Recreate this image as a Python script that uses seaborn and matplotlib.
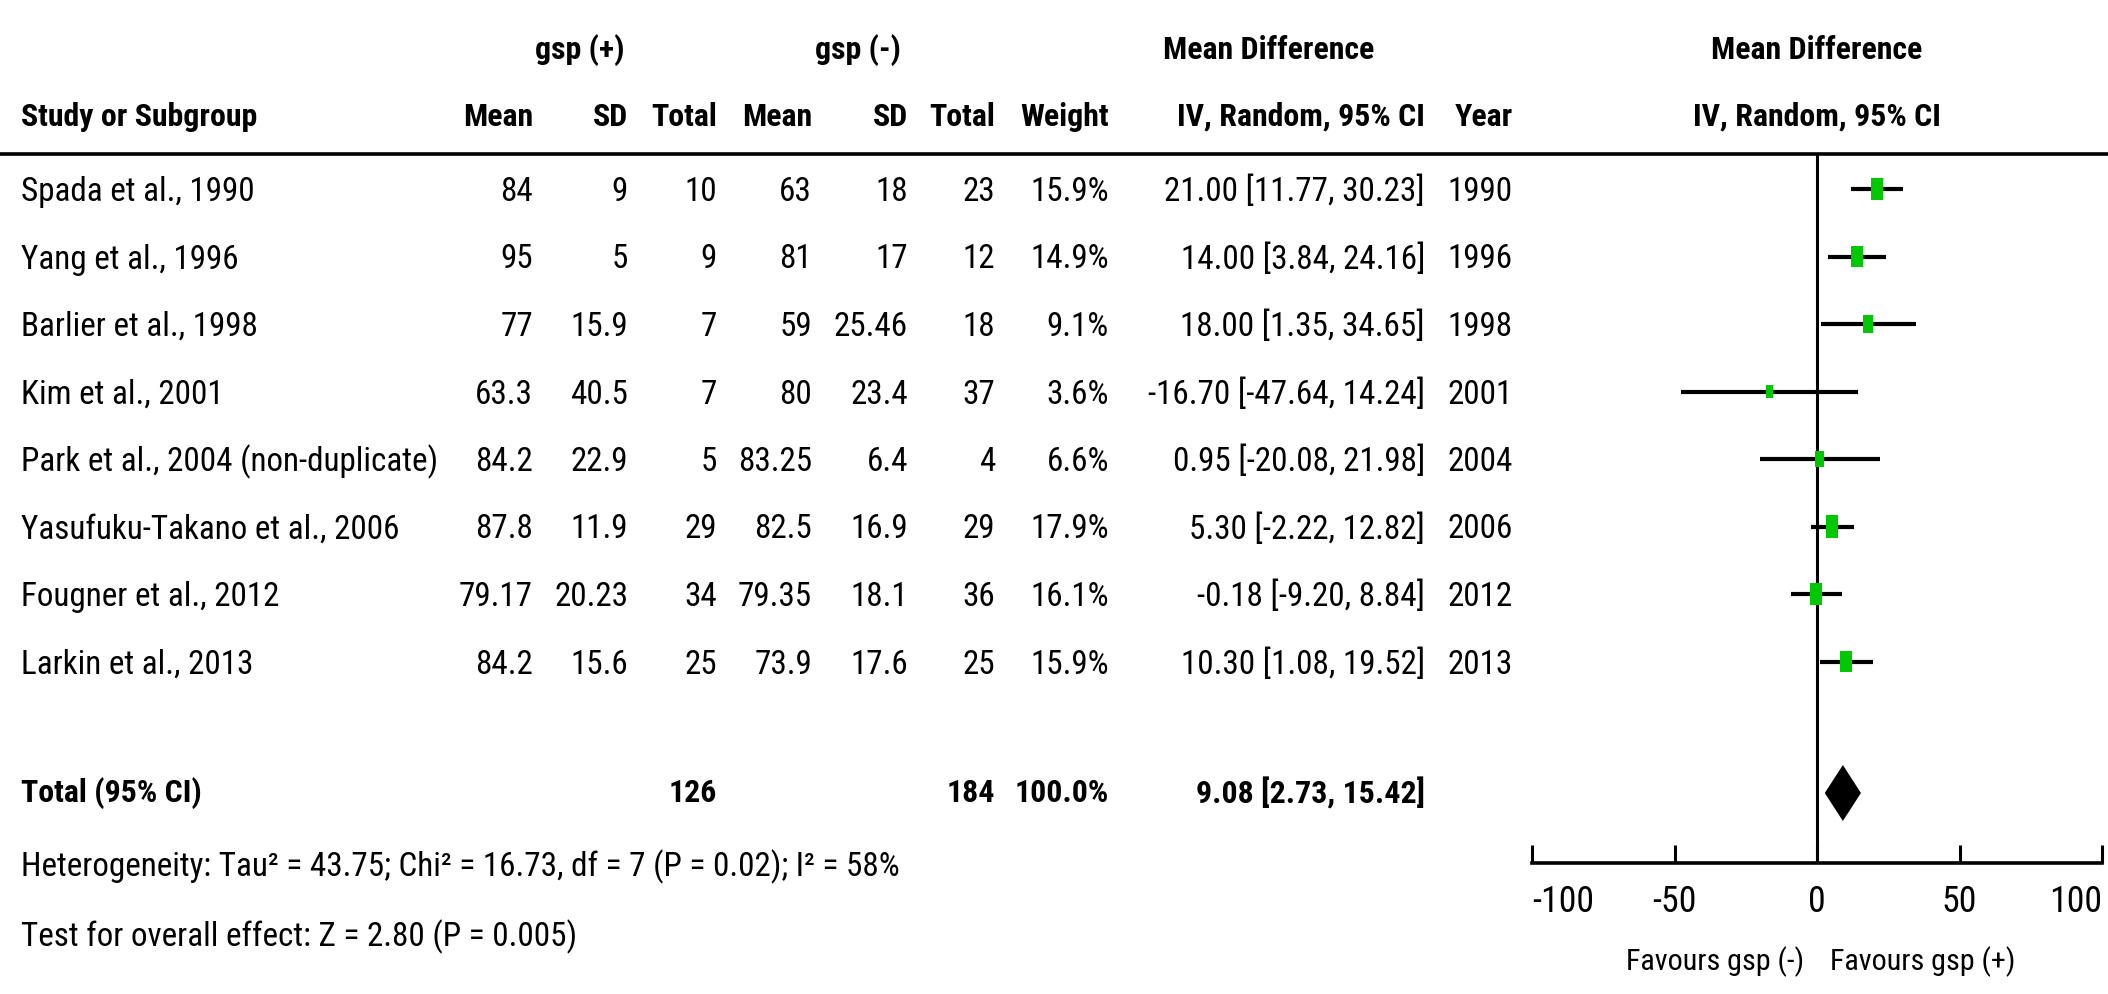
import matplotlib
matplotlib.use('Agg')
import matplotlib.pyplot as plt
from matplotlib import font_manager
import seaborn as sns
import pandas as pd

# values
studies = ['Spada et al., 1990', 'Yang et al., 1996', 'Barlier et al., 1998', 'Kim et al., 2001',
           'Park et al., 2004 (non-duplicate)', 'Yasufuku-Takano et al., 2006',
           'Fougner et al., 2012', 'Larkin et al., 2013']
pos_mean = [84, 95, 77, 63.3, 84.2, 87.8, 79.17, 84.2]
pos_sd = [9, 5, 15.9, 40.5, 22.9, 11.9, 20.23, 15.6]
pos_n = [10, 9, 7, 7, 5, 29, 34, 25]
neg_mean = [63, 81, 59, 80, 83.25, 82.5, 79.35, 73.9]
neg_sd = [18, 17, 25.46, 23.4, 6.4, 16.9, 18.1, 17.6]
neg_n = [23, 12, 18, 37, 4, 29, 36, 25]
weights = [15.9, 14.9, 9.1, 3.6, 6.6, 17.9, 16.1, 15.9]
md = [21.00, 14.00, 18.00, -16.70, 0.95, 5.30, -0.18, 10.30]
ci_lo = [11.77, 3.84, 1.35, -47.64, -20.08, -2.22, -9.20, 1.08]
ci_hi = [30.23, 24.16, 34.65, 14.24, 21.98, 12.82, 8.84, 19.52]
years = [1990, 1996, 1998, 2001, 2004, 2006, 2012, 2013]

total_pos, total_neg, total_weight = 126, 184, 100.0
pooled_md, pooled_lo, pooled_hi = 9.08, 2.73, 15.42
heterogeneity = 'Heterogeneity: Tau² = 43.75; Chi² = 16.73, df = 7 (P = 0.02); I² = 58%'
overall_effect = 'Test for overall effect: Z = 2.80 (P = 0.005)'
xticks = [-100, -50, 0, 50, 100]
xtick_labels = ['-100', '-50', '0', '50', '100']

# layout (pixels of the 2108x994 canvas)
W, H = 2108, 994
ROW0, STEP = 189, 67.5
TXT = 3
HEAD1_Y, HEAD2_Y, RULE_Y = 50, 117, 154
TOT_Y, HET_Y, TEST_Y = 793, 867, 937
AXIS_Y, FAV_Y = 863, 962
PLOT_L, PLOT_R = 1532, 2102
PLOT_C = 1817

sns.set_theme(style='white')

# prefer a narrow face, the reference text is strongly condensed
names = {f.name for f in font_manager.fontManager.ttflist}
condensed = {f.name for f in font_manager.fontManager.ttflist
             if f.stretch in ('condensed', 'semi-condensed', 'extra-condensed', 'ultra-condensed')
             or (isinstance(f.stretch, int) and f.stretch < 500)}
prefs = ['Liberation Sans Narrow', 'Roboto Condensed', 'Open Sans Condensed',
         'DejaVu Sans Condensed', 'Noto Sans Condensed']
fam = next((n for n in prefs if n in names), None)
if fam is None:
    fam = next((n for n in ['DejaVu Sans', 'Roboto', 'Noto Sans', 'Open Sans'] if n in condensed), 'DejaVu Sans')
plt.rcParams['font.family'] = [fam, 'DejaVu Sans']
plt.rcParams['font.stretch'] = 'condensed'
plt.rcParams['axes.unicode_minus'] = False
plt.rcParams['text.color'] = 'black'
plt.rcParams['xtick.color'] = 'black'

fig = plt.figure(figsize=(W / 100, H / 100), dpi=100)
fig.patch.set_facecolor('white')

tab = fig.add_axes([0, 0, 1, 1])
tab.set_xlim(0, W)
tab.set_ylim(H, 0)
tab.axis('off')

renderer = fig.canvas.get_renderer()

def fit(s, target, bold=False):
    t = tab.text(0, 0, s, fontsize=20, fontweight='bold' if bold else 'normal')
    w = t.get_window_extent(renderer).width
    t.remove()
    return 20 * target / w

FS = fit(heterogeneity, 879)
FSB = (fit('Study or Subgroup', 239, True) + fit('IV, Random, 95% CI', 245, True)) / 2
FST = fit('-100', 62)
FSF = fit('Favours gsp (-)', 178)

fx = fig.add_axes([PLOT_L / W, 0, (PLOT_R - PLOT_L) / W, 1], zorder=3)
fx.patch.set_alpha(0)

def put(x, y, s, ha='right', bold=False):
    tab.text(x, y, s, ha=ha, va='center', fontsize=FSB if bold else FS,
             fontweight='bold' if bold else 'normal', color='black')

# header
put(580, HEAD1_Y, 'gsp (+)', ha='center', bold=True)
put(858, HEAD1_Y, 'gsp (-)', ha='center', bold=True)
put(1269, HEAD1_Y, 'Mean Difference', ha='center', bold=True)
put(PLOT_C, HEAD1_Y, 'Mean Difference', ha='center', bold=True)
cols = [533, 628, 717, 812, 908, 995, 1109, 1425, 1513]
put(21, HEAD2_Y, 'Study or Subgroup', ha='left', bold=True)
for x, s in zip(cols, ['Mean', 'SD', 'Total', 'Mean', 'SD', 'Total', 'Weight',
                       'IV, Random, 95% CI', 'Year']):
    put(x, HEAD2_Y, s, bold=True)
put(PLOT_C, HEAD2_Y, 'IV, Random, 95% CI', ha='center', bold=True)
tab.hlines(RULE_Y, 0, W, color='black', lw=2.6)

# study rows
rows_y = [ROW0 + i * STEP for i in range(len(studies))]
for i, y in enumerate(rows_y):
    yt = y + TXT
    put(21, yt, studies[i], ha='left')
    vals = [f'{pos_mean[i]:g}', f'{pos_sd[i]:g}', f'{pos_n[i]}',
            f'{neg_mean[i]:g}', f'{neg_sd[i]:g}', f'{neg_n[i]}',
            f'{weights[i]:.1f}%', f'{md[i]:.2f} [{ci_lo[i]:.2f}, {ci_hi[i]:.2f}]',
            f'{years[i]}']
    for x, s in zip(cols, vals):
        put(x, yt, s)

# total row and footnotes
put(21, TOT_Y, 'Total (95% CI)', ha='left', bold=True)
put(cols[2], TOT_Y, f'{total_pos}', bold=True)
put(cols[5], TOT_Y, f'{total_neg}', bold=True)
put(cols[6], TOT_Y, f'{total_weight:.1f}%', bold=True)
put(cols[7], TOT_Y, f'{pooled_md:.2f} [{pooled_lo:.2f}, {pooled_hi:.2f}]', bold=True)
put(21, HET_Y, heterogeneity, ha='left')
put(21, TEST_Y, overall_effect, ha='left')

# forest plot
df = pd.DataFrame({'md': md, 'y': rows_y, 'weight': weights})
fx.vlines(0, RULE_Y, AXIS_Y, color='black', lw=2.2, zorder=1)
fx.hlines(df['y'], ci_lo, ci_hi, color='black', lw=3, zorder=2)
rect = [(-0.55, -1), (0.55, -1), (0.55, 1), (-0.55, 1), (-0.55, -1)]
sns.scatterplot(data=df, x='md', y='y', size='weight', sizes=(90, 270),
                size_norm=(min(weights), max(weights)), marker=rect,
                color='#00c800', linewidth=0, legend=False, ax=fx, zorder=4)
fx.fill([pooled_lo, pooled_md, pooled_hi, pooled_md],
        [TOT_Y, TOT_Y - 28, TOT_Y, TOT_Y + 28], color='black', lw=0, zorder=4)

fx.set_xlim(xticks[0], xticks[-1])
fx.set_ylim(H, 0)
fx.set_xlabel('')
fx.set_ylabel('')
fx.set_yticks([])
for side in ['top', 'left', 'right']:
    fx.spines[side].set_visible(False)
fx.spines['bottom'].set_position(('data', AXIS_Y))
fx.spines['bottom'].set_linewidth(2.6)
fx.spines['bottom'].set_color('black')
fx.set_xticks(xticks)
fx.set_xticklabels(xtick_labels)
fx.tick_params(axis='x', direction='in', length=13, width=2.2, color='black',
               labelcolor='black', labelsize=FST, pad=15, bottom=True)
# end labels kept inside the scale, as in RevMan
tl = fx.get_xticklabels()
tl[0].set_ha('left')
tl[-1].set_ha('right')
fx.annotate('Favours gsp (-)', xy=(0, FAV_Y), xytext=(-9, 0), textcoords='offset points',
            ha='right', va='center', fontsize=FSF)
fx.annotate('Favours gsp (+)', xy=(0, FAV_Y), xytext=(9, 0), textcoords='offset points',
            ha='left', va='center', fontsize=FSF)

fig.savefig('out.png', dpi=100, facecolor='white')
